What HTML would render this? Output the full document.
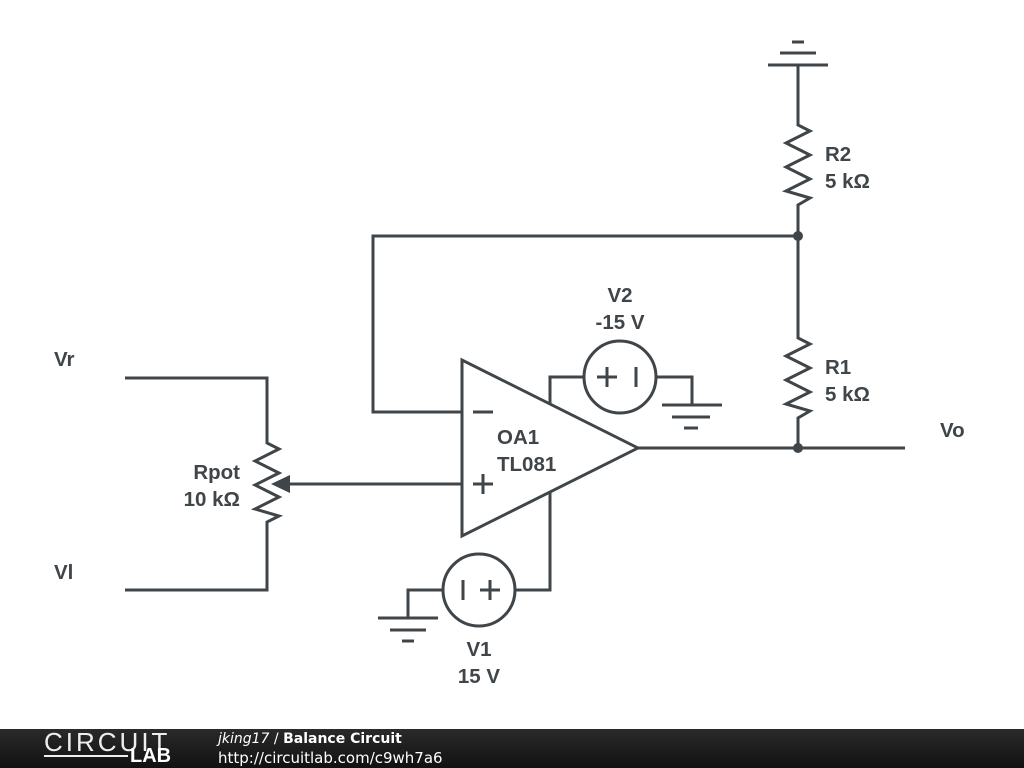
<!DOCTYPE html>
<html><head><style>
body{margin:0;width:1024px;height:768px;background:#fff;overflow:hidden;position:relative;font-family:"Liberation Sans",sans-serif}
svg{position:absolute;left:0;top:0}
.t{font-family:"Liberation Sans",sans-serif;font-weight:bold;font-size:20.5px;fill:#3f4548}
#foot{position:absolute;left:0;top:729px;width:1024px;height:39px;background:linear-gradient(#2a2a2a,#111)}
</style></head><body>
<svg width="1024" height="768" viewBox="0 0 1024 768">
<g fill="none" stroke="#3f4548" stroke-width="3" stroke-linejoin="miter">
<polygon points="462,360 462,536 638,448"/>
<line x1="473" y1="412" x2="493" y2="412"/>
<line x1="473" y1="484" x2="493" y2="484"/><line x1="483" y1="474" x2="483" y2="494"/>
<polyline points="550,404 550,377 584,377"/>
<circle cx="620" cy="377" r="36"/>
<line x1="597" y1="377" x2="617" y2="377"/><line x1="607" y1="367" x2="607" y2="387"/>
<line x1="636" y1="367" x2="636" y2="387"/>
<polyline points="656,377 692,377 692,405"/>
<line x1="662" y1="405" x2="722" y2="405"/><line x1="672" y1="417" x2="710" y2="417"/><line x1="684" y1="428" x2="698" y2="428"/>
<polyline points="550,492 550,590 515,590"/>
<circle cx="479" cy="590" r="36"/>
<line x1="463" y1="580" x2="463" y2="600"/>
<line x1="480" y1="590" x2="500" y2="590"/><line x1="490" y1="580" x2="490" y2="600"/>
<polyline points="443,590 408,590 408,618"/>
<line x1="378" y1="618" x2="438" y2="618"/><line x1="390" y1="630" x2="426" y2="630"/><line x1="402" y1="641" x2="414" y2="641"/>
<polyline points="462,412 373,412 373,236 798,236"/>
<line x1="768" y1="65" x2="828" y2="65"/><line x1="780" y1="53" x2="816" y2="53"/><line x1="792" y1="42" x2="804" y2="42"/>
<polyline points="798,65 798,125 810,131 786,143 810,155 786,167 810,179 786,191 810,198 798,205 798,338 810,344 786,356 810,368 786,380 810,392 786,404 810,411 798,418 798,448"/>
<line x1="638" y1="448" x2="905" y2="448"/>
<polyline points="125,378 267,378 267,443 279,449 255,461 279,473 255,485 279,497 255,509 279,516 267,522 267,590 125,590"/>
<line x1="462" y1="484" x2="286" y2="484"/>
</g>
<polygon points="271,484 290,475 290,493" fill="#3f4548"/>
<circle cx="798" cy="236" r="5" fill="#3f4548"/>
<circle cx="798" cy="448" r="5" fill="#3f4548"/>
<text class="t" x="54" y="366">Vr</text>
<text class="t" x="54" y="579">Vl</text>
<text class="t" x="940" y="437">Vo</text>
<text class="t" x="240" y="479" text-anchor="end">Rpot</text>
<text class="t" x="240" y="506" text-anchor="end">10 kΩ</text>
<text class="t" x="825" y="161">R2</text>
<text class="t" x="825" y="188">5 kΩ</text>
<text class="t" x="825" y="374">R1</text>
<text class="t" x="825" y="401">5 kΩ</text>
<text class="t" x="620" y="302" text-anchor="middle">V2</text>
<text class="t" x="620" y="329" text-anchor="middle">-15 V</text>
<text class="t" x="479" y="656" text-anchor="middle">V1</text>
<text class="t" x="479" y="683" text-anchor="middle">15 V</text>
<text class="t" x="497" y="444">OA1</text>
<text class="t" x="497" y="471">TL081</text>
</svg>
<div id="foot">
<div style="position:absolute;left:44px;top:1px;color:#eee;font-size:26px;letter-spacing:3px;font-weight:normal;line-height:24px">CIRCUIT</div>
<div style="position:absolute;left:44px;top:26px;width:84px;height:2px;background:#eee"></div>
<div style="position:absolute;left:130px;top:16px;color:#fff;font-size:20px;font-weight:bold;line-height:22px">LAB</div>
<div style="position:absolute;left:218px;top:2px;color:#fff;font-family:'DejaVu Sans',sans-serif;font-size:14px;line-height:17px"><i>jking17</i> / <b>Balance Circuit</b></div>
<div style="position:absolute;left:218px;top:20px;color:#fff;font-family:'DejaVu Sans',sans-serif;font-size:15px;line-height:18px">http://circuitlab.com/c9wh7a6</div>
</div>
</body></html>
